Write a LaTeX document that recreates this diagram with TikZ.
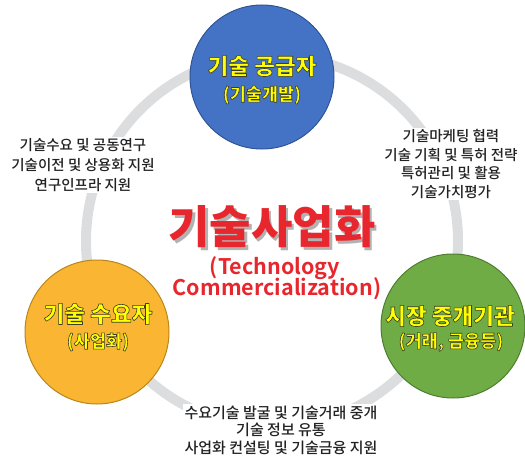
\documentclass[tikz,border=0pt]{standalone}
\usepackage{fontspec}
\newfontfamily\kr{Noto Sans CJK KR Medium}
\newfontfamily\krb{Noto Sans CJK KR Bold}
\newfontfamily\krk{Noto Sans CJK KR Black}
\definecolor{ringc}{HTML}{DCDDDF}
\definecolor{bluef}{HTML}{4472C4}
\definecolor{blued}{HTML}{2F5597}
\definecolor{orf}{HTML}{FAB632}
\definecolor{ord}{HTML}{B8861A}
\definecolor{grf}{HTML}{6FAC46}
\definecolor{grd}{HTML}{4E7D30}
\definecolor{ylw}{HTML}{FFFF00}
\definecolor{ttl}{HTML}{E8262D}
\definecolor{txt}{HTML}{222222}
\newcommand\olt[1]{{\color{ylw}\special{pdf:literal direct 2 Tr 0.6 w 1 j 0.24 0.24 0.16 RG}#1\special{pdf:literal direct 0 Tr}}}
\newcommand\shd[1]{\begingroup\setbox0=\hbox{#1}%
\rlap{\kern2.5pt\raise-2.5pt\hbox{\color{black!30}\copy0}}%
\hbox{\color{ttl}\copy0}\endgroup}
\tikzset{
  bubble/.style={circle, minimum size=144pt, inner sep=0pt, line width=1pt},
  bigl/.style={font=\krk\fontsize{22.5}{24}\selectfont, inner sep=0pt},
  smalll/.style={font=\krk\fontsize{17.5}{20}\selectfont, inner sep=0pt},
  note/.style={font=\kr\fontsize{14.5}{20}\selectfont, text=txt, align=center, fill=white, inner sep=1.5pt},
  eng/.style={font=\krb\fontsize{21.5}{22}\selectfont, text=ttl, inner sep=0pt},
}
\begin{document}
\begin{tikzpicture}[x=1pt,y=-1pt]
\useasboundingbox (0,0) rectangle (525,460);
% ring
\draw[ringc, line width=10pt] (272,241) circle (186);
% bubbles
\node[bubble, fill=bluef, draw=blued] (sup) at (262,77) {};
\node[bubble, fill=orf, draw=ord] (dem) at (97,332) {};
\node[bubble, fill=grf, draw=grd] (mkt) at (453,326) {};
% bubble texts
\node[bigl] (sup1) at (262,66) {\olt{기술 공급자}};
\node[smalll] (sup2) at (262,95) {\olt{(기술개발)}};
\node[bigl] (dem1) at (98,314) {\olt{기술 수요자}};
\node[smalll] (dem2) at (98,342) {\olt{(사업화)}};
\node[bigl] (mkt1) at (450,316) {\olt{시장 중개기관}};
\node[smalll] (mkt2) at (451,342) {\olt{(거래, 금융등)}};
% title
\node[font=\krk\fontsize{45}{48}\selectfont, inner sep=0pt] (title) at (272,228) {\shd{기술사업화}};
\node[eng] (eng1) at (275,268) {(Technology};
\node[eng] (eng2) at (277,289) {Commercialization)};
% notes
\node[note] (nl) at (83,165) {기술수요 및 공동연구\\기술이전 및 상용화 지원\\연구인프라 지원};
\node[note, font=\kr\fontsize{14.5}{18.7}\selectfont] (nr) at (451,164) {기술마케팅 협력\\기술 기획 및 특허 전략\\특허관리 및 활용\\기술가치평가};
\node[note, font=\kr\fontsize{15}{17.5}\selectfont] (nb) at (281,430) {수요기술 발굴 및 기술거래 중개\\기술 정보 유통\\사업화 컨설팅 및 기술금융 지원};
\end{tikzpicture}
\end{document}
